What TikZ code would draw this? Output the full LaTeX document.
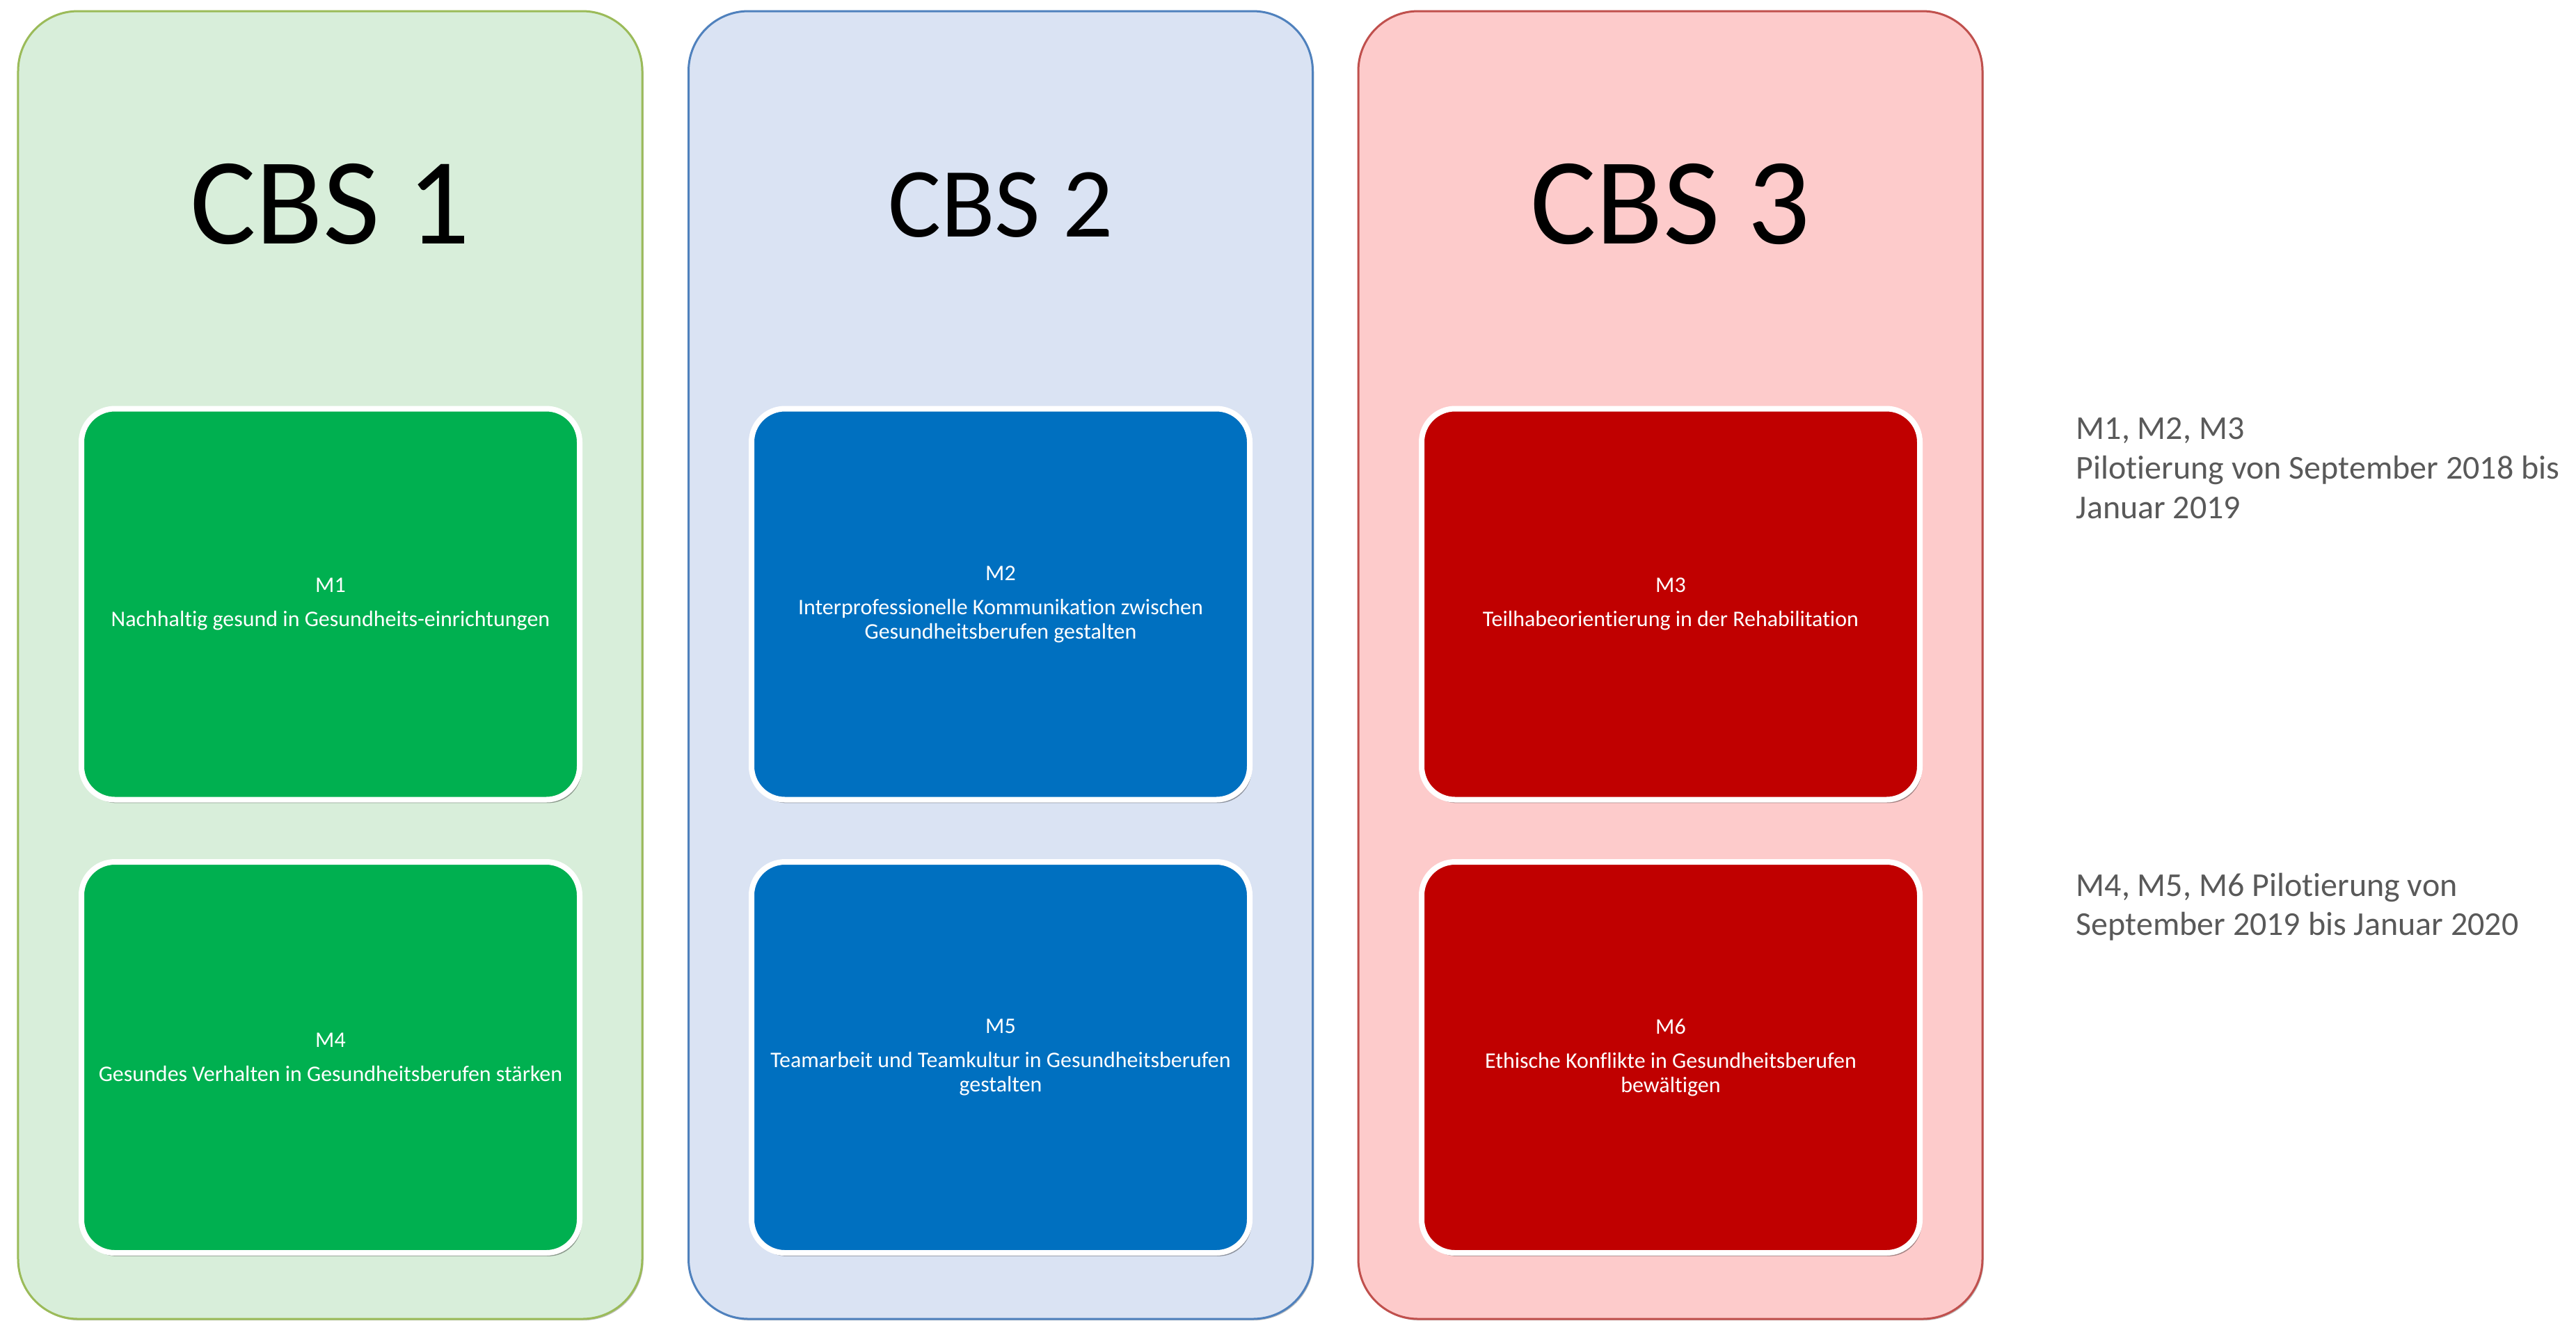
\documentclass[tikz,border=0pt]{standalone}
\usepackage{fontspec}
\setmainfont{Carlito}[Ligatures=NoCommon]
\usetikzlibrary{shadows}
\definecolor{pgreenfill}{RGB}{216,238,218}
\definecolor{pgreenline}{RGB}{155,187,89}
\definecolor{pbluefill}{RGB}{218,227,243}
\definecolor{pblueline}{RGB}{79,129,189}
\definecolor{predfill}{RGB}{253,203,203}
\definecolor{predline}{RGB}{192,80,77}
\definecolor{mgreen}{RGB}{0,176,80}
\definecolor{mblue}{RGB}{0,112,192}
\definecolor{mred}{RGB}{192,0,0}
\definecolor{sidegray}{RGB}{89,89,89}
\tikzset{
  panel/.style={draw=#1line, fill=#1fill, rounded corners=0.86cm, line width=0.03cm,
    minimum width=8.97cm, minimum height=18.80cm, inner sep=0pt,
    drop shadow={shadow xshift=0.5pt, shadow yshift=-0.6pt, opacity=0.25, fill=black}},
  mbox/.style={fill=#1, draw=white, line width=0.08cm, rounded corners=0.48cm,
    minimum width=7.16cm, minimum height=5.62cm, inner sep=0pt, text=white, align=center,
    font=\fontsize{9.1}{9.96}\selectfont,
    drop shadow={shadow xshift=0.8pt, shadow yshift=-1.4pt, opacity=0.35, fill=black}},
  cbsbig/.style={anchor=base, inner sep=0pt, text=black, font=\fontsize{50.5}{60}\selectfont},
  cbssmall/.style={anchor=base, inner sep=0pt, text=black, font=\fontsize{40.6}{50}\selectfont},
  sidetext/.style={anchor=north west, inner sep=0pt, text=sidegray, align=left,
    font=\fontsize{13.65}{16.2}\selectfont}
}
\begin{document}
\begin{tikzpicture}
\useasboundingbox (0,0) rectangle (37.02,-18.98);
% panels
\node[panel=pgreen] (p1) at (4.745,-9.56) {};
\node[panel=pblue]  (p2) at (14.38,-9.56) {};
\node[panel=pred]   (p3) at (24.005,-9.56) {};
% titles
\node[cbsbig]   (t1) at (4.745,-3.50) {CBS 1};
\node[cbssmall] (t2) at (14.38,-3.40) {CBS 2};
\node[cbsbig]   (t3) at (24.005,-3.50) {CBS 3};
% module boxes
\node[mbox=mgreen] (m1) at (4.75,-8.685) {M1\\[3.98pt]Nachhaltig gesund in Gesundheits-einrichtungen};
\node[mbox=mblue]  (m2) at (14.38,-8.685) {M2\\[3.98pt]Interprofessionelle Kommunikation zwischen\\Gesundheitsberufen gestalten};
\node[mbox=mred]   (m3) at (24.01,-8.685) {M3\\[3.98pt]Teilhabeorientierung in der Rehabilitation};
\node[mbox=mgreen] (m4) at (4.75,-15.20) {M4\\[3.98pt]Gesundes Verhalten in Gesundheitsberufen stärken};
\node[mbox=mblue]  (m5) at (14.38,-15.20) {M5\\[3.98pt]Teamarbeit und Teamkultur in Gesundheitsberufen\\gestalten};
\node[mbox=mred]   (m6) at (24.01,-15.20) {M6\\[3.98pt]Ethische Konflikte in Gesundheitsberufen\\bewältigen};
% side notes
\node[sidetext] (s1) at (29.83,-6.00) {M1, M2, M3\\Pilotierung von September 2018 bis\\Januar 2019};
\node[sidetext] (s2) at (29.83,-12.54) {M4, M5, M6 Pilotierung von\\September 2019 bis Januar 2020};
\end{tikzpicture}
\end{document}
